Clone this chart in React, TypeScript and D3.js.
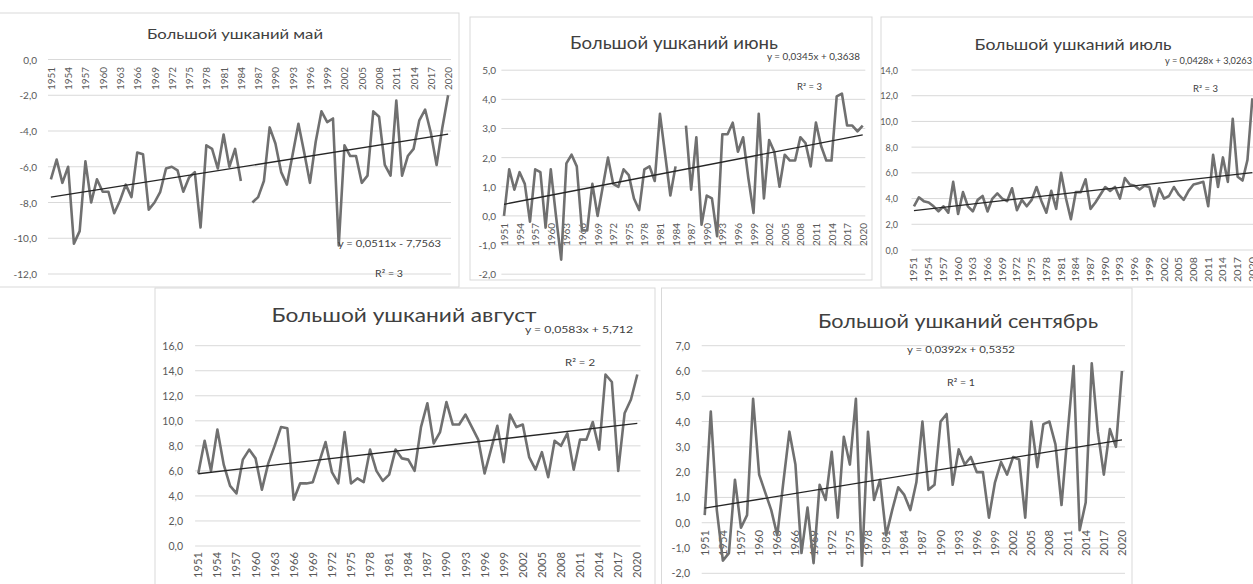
import React from 'react';
import * as d3 from 'd3';

const years = [
  1951, 1952, 1953, 1954, 1955, 1956, 1957, 1958, 1959, 1960,
  1961, 1962, 1963, 1964, 1965, 1966, 1967, 1968, 1969, 1970,
  1971, 1972, 1973, 1974, 1975, 1976, 1977, 1978, 1979, 1980,
  1981, 1982, 1983, 1984, 1985, 1986, 1987, 1988, 1989, 1990,
  1991, 1992, 1993, 1994, 1995, 1996, 1997, 1998, 1999, 2000,
  2001, 2002, 2003, 2004, 2005, 2006, 2007, 2008, 2009, 2010,
  2011, 2012, 2013, 2014, 2015, 2016, 2017, 2018, 2019, 2020,
];

const xTickYears = [
  1951, 1954, 1957, 1960, 1963, 1966, 1969, 1972, 1975, 1978, 1981, 1984,
  1987, 1990, 1993, 1996, 1999, 2002, 2005, 2008, 2011, 2014, 2017, 2020,
];

const mayValues: (number | null)[] = [
  -6.7, -5.6, -6.9, -6.0, -10.3, -9.6, -5.7, -8.0, -6.7, -7.4,
  -7.4, -8.6, -7.9, -7.0, -7.7, -5.2, -5.3, -8.4, -8.0, -7.4,
  -6.1, -6.0, -6.2, -7.4, -6.6, -6.3, -9.4, -4.8, -5.0, -6.1,
  -4.2, -6.0, -5.0, -6.8, null, -8.0, -7.7, -6.8, -3.8, -4.7,
  -6.3, -7.0, -5.3, -3.6, -5.2, -6.9, -4.6, -2.9, -3.5, -3.3,
  -10.4, -4.8, -5.4, -5.4, -6.9, -6.5, -2.9, -3.2, -5.9, -6.5,
  -2.3, -6.5, -5.4, -5.0, -3.4, -2.8, -4.1, -5.9, -3.8, -2.0,
];

const juneValues: (number | null)[] = [
  0.0, 1.6, 0.9, 1.5, 1.1, -0.2, 1.6, 1.5, -0.4, 1.6,
  0.0, -1.5, 1.8, 2.1, 1.7, -0.5, -0.5, 1.1, 0.0, 1.0,
  2.0, 1.1, 1.0, 1.6, 1.4, 0.6, 0.2, 1.6, 1.7, 1.2,
  3.5, 2.1, 0.7, 1.7, null, 3.1, 0.9, 2.7, -0.3, 0.7,
  0.6, -0.7, 2.8, 2.8, 3.2, 2.2, 2.7, 1.3, 0.1, 3.5,
  0.6, 2.6, 2.2, 1.0, 2.1, 1.9, 1.9, 2.7, 2.5, 1.7,
  3.2, 2.4, 1.9, 1.9, 4.1, 4.2, 3.1, 3.1, 2.9, 3.1,
];

const julyValues: (number | null)[] = [
  3.4, 4.1, 3.8, 3.7, 3.4, 3.0, 3.4, 2.9, 5.3, 2.8,
  4.5, 3.4, 3.0, 3.9, 4.2, 3.0, 4.0, 4.4, 4.0, 3.8,
  4.8, 3.1, 3.9, 3.4, 3.9, 4.9, 3.8, 2.9, 4.6, 3.2,
  6.0, 4.0, 2.4, 4.5, 4.5, 5.5, 3.2, 3.7, 4.3, 4.9,
  4.6, 4.9, 4.0, 5.6, 5.1, 5.0, 4.7, 5.0, 4.9, 3.4,
  4.8, 4.0, 4.2, 4.9, 4.3, 3.9, 4.6, 5.1, 5.2, 5.3,
  3.4, 7.4, 4.9, 7.2, 5.3, 10.2, 5.7, 5.4, 7.0, 11.8,
];

const augustValues: (number | null)[] = [
  5.8, 8.4, 6.0, 9.3, 6.5, 4.8, 4.2, 6.9, 7.7, 7.0,
  4.5, 6.6, 8.0, 9.5, 9.4, 3.7, 5.0, 5.0, 5.1, 6.7,
  8.3, 5.9, 5.0, 9.1, 5.0, 5.4, 5.1, 7.7, 6.0, 5.2,
  5.7, 7.7, 7.0, 6.9, 6.0, 9.5, 11.4, 8.2, 9.1, 11.5,
  9.7, 9.7, 10.5, 9.5, 8.5, 5.8, 7.7, 9.6, 6.7, 10.5,
  9.5, 9.7, 7.1, 6.1, 7.5, 5.5, 8.4, 8.0, 9.0, 6.1,
  8.5, 8.5, 9.9, 7.7, 13.7, 13.1, 6.0, 10.6, 11.7, 13.7,
];

const septemberValues: (number | null)[] = [
  0.3, 4.4, 0.5, -1.5, -1.2, 1.7, -0.2, 0.3, 4.9, 1.9,
  1.2, 0.5, -0.5, 1.6, 3.6, 2.3, -1.2, 0.6, -1.6, 1.5,
  0.9, 2.8, 0.2, 3.4, 2.3, 4.9, -1.7, 3.6, 0.9, 1.7,
  -0.5, 0.5, 1.4, 1.1, 0.5, 1.6, 4.0, 1.3, 1.5, 4.0,
  4.3, 1.5, 2.9, 2.3, 2.6, 2.0, 2.0, 0.2, 1.6, 2.4,
  1.9, 2.6, 2.5, 0.2, 4.0, 2.2, 3.9, 4.0, 3.1, 0.7,
  3.5, 6.2, -0.3, 0.8, 6.3, 3.6, 1.9, 3.7, 3.0, 6.0,
];

const titles = [
  'Большой ушканий май',
  'Большой ушканий июнь',
  'Большой ушканий июль',
  'Большой ушканий август',
  'Большой ушканий сентябрь',
];

const trendSlopes = [0.0511, 0.0345, 0.0428, 0.0583, 0.0392];
const trendIntercepts = [-7.7563, 0.3638, 3.0263, 5.712, 0.5352];
const equationLabels = [
  'y = 0,0511x - 7,7563',
  'y = 0,0345x + 0,3638',
  'y = 0,0428x + 3,0263',
  'y = 0,0583x + 5,712',
  'y = 0,0392x + 0,5352',
];
const r2Labels = ['R² = 3', 'R² = 3', 'R² = 3', 'R² = 2', 'R² = 1'];

const mayTicks = [0, -2, -4, -6, -8, -10, -12];
const juneTicks = [5, 4, 3, 2, 1, 0, -1, -2];
const julyTicks = [14, 12, 10, 8, 6, 4, 2, 0];
const augustTicks = [16, 14, 12, 10, 8, 6, 4, 2, 0];
const septemberTicks = [7, 6, 5, 4, 3, 2, 1, 0, -1, -2];

const seriesList = [mayValues, juneValues, julyValues, augustValues, septemberValues];
const tickList = [mayTicks, juneTicks, julyTicks, augustTicks, septemberTicks];

// Layout (positions/sizes only)
const layouts = [
  { box: [-1, 13, 459, 287], px: [48, 451], py: [274, 59.5], yLabX: 37, yLabSize: 10,
    xLabY: 67, xLabLen: 23, xLabSize: 10,
    title: { cx: 235, y: 39.3, size: 13.5, len: 176 },
    eq: { x: 338, y: 247, len: 103, size: 9 }, r2: { x: 375, y: 277, len: 28, size: 9 } },
  { box: [470, 17, 872, 280], px: [501.4, 865.3], py: [274.2, 70.2], yLabX: 496, yLabSize: 10,
    xLabY: 223, xLabLen: 23, xLabSize: 10,
    title: { cx: 674, y: 49.3, size: 17, len: 208 },
    eq: { x: 767, y: 60, len: 93, size: 8.5 }, r2: { x: 797, y: 90, len: 25, size: 8.5 } },
  { box: [881, 17, 1262, 287], px: [911.5, 1254.8], py: [250, 70], yLabX: 898, yLabSize: 9,
    xLabY: 257, xLabLen: 25, xLabSize: 9,
    title: { cx: 1073, y: 50, size: 16, len: 197 },
    eq: { x: 1165, y: 64, len: 87, size: 8.5 }, r2: { x: 1193, y: 92, len: 25, size: 8.5 } },
  { box: [155, 288, 655, 600], px: [195.1, 640.5], py: [546, 345.7], yLabX: 183, yLabSize: 10.5,
    xLabY: 552, xLabLen: 26, xLabSize: 10.5,
    title: { cx: 404, y: 322, size: 20, len: 265 },
    eq: { x: 525, y: 333, len: 108, size: 10 }, r2: { x: 565, y: 366, len: 30, size: 10 } },
  { box: [661.5, 288, 1132, 600], px: [701.7, 1125], py: [573.3, 345.7], yLabX: 690, yLabSize: 10.5,
    xLabY: 530, xLabLen: 26, xLabSize: 10.5,
    title: { cx: 958, y: 328.3, size: 19, len: 280 },
    eq: { x: 907, y: 353, len: 108, size: 10 }, r2: { x: 947, y: 386, len: 28, size: 10 } },
];

const FONT = 'Lato, "Open Sans", sans-serif';
const fmt = (v: number) => v.toFixed(1).replace('.', ',');

function Panel({ idx }: { idx: number }) {
  const L = layouts[idx];
  const values = seriesList[idx];
  const ticks = tickList[idx];
  const x = d3.scalePoint<number>().domain(years).range(L.px as [number, number]).padding(0.5);
  const y = d3.scaleLinear().domain(d3.extent(ticks) as [number, number]).range(L.py as [number, number]);
  const line = d3.line<number | null>()
    .defined((d) => d != null)
    .x((_, i) => x(years[i]) as number)
    .y((d) => y(d as number));
  const trend = d3.line<number>()
    .x((yr) => x(yr) as number)
    .y((yr) => y(trendSlopes[idx] * (years.indexOf(yr) + 1) + trendIntercepts[idx]));
  const [bx0, by0, bx1, by1] = L.box;
  const zeroY = y(0);
  return (
    <g>
      <rect x={bx0} y={by0} width={bx1 - bx0} height={by1 - by0} fill="#fff" stroke="#d9d9d9" strokeWidth={1} />
      {ticks.map((t) => (
        <g key={t}>
          <line x1={L.px[0]} x2={L.px[1]} y1={y(t)} y2={y(t)} stroke="#d9d9d9" strokeWidth={1} />
          <text x={L.yLabX} y={y(t)} textAnchor="end" dominantBaseline="central"
            fontSize={L.yLabSize} fill="#595959" fontFamily={FONT}>{fmt(t)}</text>
        </g>
      ))}
      {xTickYears.map((yr) => {
        const xx = (x(yr) as number);
        return (
          <text key={yr} transform={`translate(${xx},${L.xLabY}) rotate(-90)`}
            textAnchor="end" dominantBaseline="central" fontSize={L.xLabSize} fill="#595959"
            fontFamily={FONT} textLength={L.xLabLen} lengthAdjust="spacingAndGlyphs">{yr}</text>
        );
      })}
      <path d={line(values) || ''} fill="none" stroke="#707070" strokeWidth={2.6} strokeLinejoin="round" />
      <path d={trend([years[0], years[years.length - 1]]) || ''} fill="none" stroke="#262626" strokeWidth={1.3} />
      <text x={L.title.cx} y={L.title.y} textAnchor="middle" fontSize={L.title.size} fill="#404040"
        fontFamily={FONT} textLength={L.title.len} lengthAdjust="spacingAndGlyphs">{titles[idx]}</text>
      <text x={L.eq.x} y={L.eq.y} fontSize={L.eq.size} fill="#404040" fontFamily={FONT}
        textLength={L.eq.len} lengthAdjust="spacingAndGlyphs">{equationLabels[idx]}</text>
      <text x={L.r2.x} y={L.r2.y} fontSize={L.r2.size} fill="#404040" fontFamily={FONT}
        textLength={L.r2.len} lengthAdjust="spacingAndGlyphs">{r2Labels[idx]}</text>
      {zeroY != null && null}
    </g>
  );
}

export default function App() {
  return (
    <svg width={1253} height={584} style={{ position: 'absolute', left: 0, top: 0, background: '#fff' }}>
      <rect x={0} y={0} width={1253} height={584} fill="#fff" />
      {[0, 1, 2, 3, 4].map((i) => <Panel key={i} idx={i} />)}
    </svg>
  );
}
